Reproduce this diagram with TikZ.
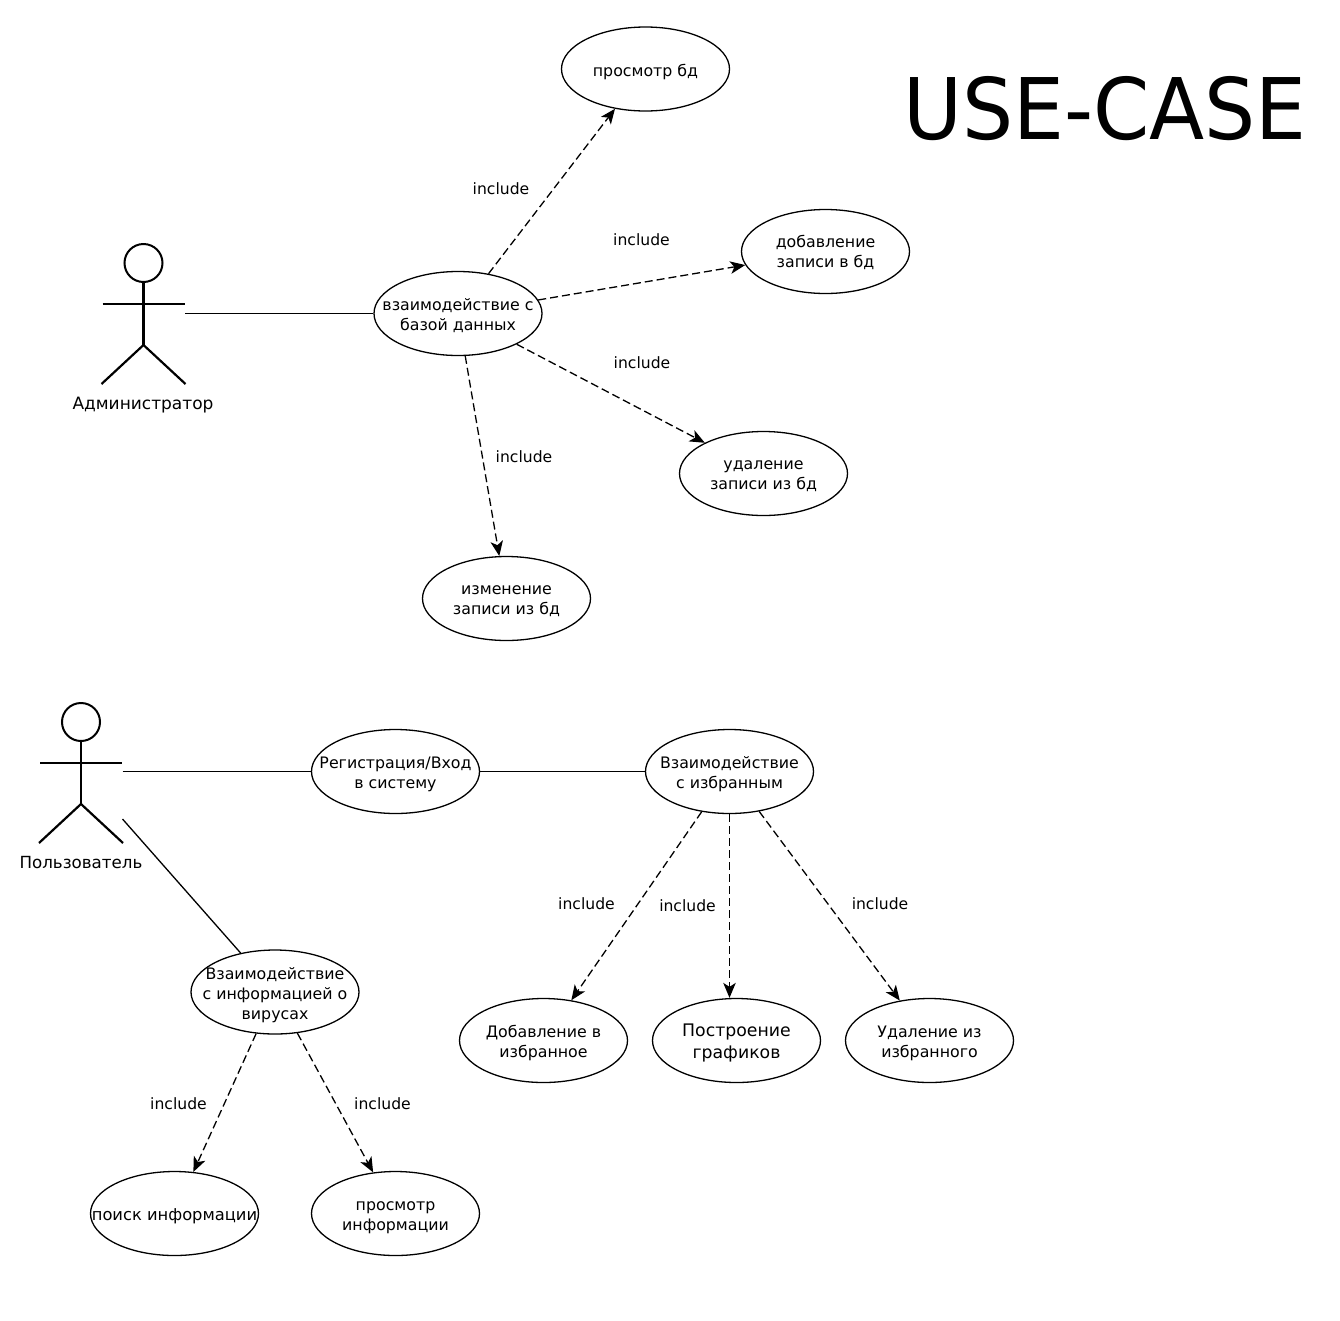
\documentclass[tikz,border=0pt]{standalone}
\usepackage{fontspec}
\setmainfont{DejaVu Sans}
\usetikzlibrary{shapes.geometric,arrows.meta}
\newcommand{\lnA}{\rule{0pt}{18pt}}
\newcommand{\lnC}{\rule{0pt}{14pt}}
\newcommand{\lnB}{\rule[-3pt]{0pt}{3pt}}
\tikzset{
  x=1pt,y=-1pt,
  uc/.style={ellipse,draw=black,line width=1.3pt,minimum width=168pt,minimum height=84pt,inner sep=-27pt,align=center,font=\fontsize{15.8}{20}\selectfont},
  lbl/.style={inner sep=0pt,font=\fontsize{15.6}{20}\selectfont},
  actorlbl/.style={inner sep=0pt,font=\fontsize{17}{20}\selectfont},
  actorbox/.style={inner sep=0pt,minimum width=83pt,minimum height=140pt},
  assoc/.style={line width=1.3pt},
  incl/.style={line width=1.3pt,dash pattern=on 8pt off 4pt,-{Stealth[length=15pt,width=12.5pt,inset=4pt]},shorten >=0pt},
  pics/stickman/.style={code={
    \draw[line width=2pt] (0,-51) circle[radius=19];
    \draw[line width=2.2pt] (0,-32) -- (0,31);
    \draw[line width=2.2pt] (-41,-10) -- (41,-10);
    \draw[line width=2.2pt] (-42,70) -- (0,31) -- (42,70);
  }}
}
\begin{document}
\begin{tikzpicture}
\useasboundingbox (0,0) rectangle (1340,1320);
\node[inner sep=0pt,font=\fontsize{85}{90}\selectfont] (title) at (1105,109) {\scalebox{.948}[1]{USE-CASE}};

\node[actorbox] (admin) at (143.5,314) {};
\pic at (admin) {stickman};
\node[actorlbl] (adminlbl) at (143,405) {Администратор};
\node[actorbox] (user) at (81,773) {};
\pic at (user) {stickman};
\node[actorlbl,font=\fontsize{16.7}{20}\selectfont] (userlbl) at (81,863) {Пользователь};
\coordinate (userfree) at (122.5,819);

\node[uc] (db) at (458,313.5) {\rule{0pt}{16pt}взаимодействие с\\базой данных\lnB};
\node[uc] (view) at (645.5,69) {\rule{0pt}{19pt}просмотр бд\lnB};
\node[uc] (add) at (825.5,251.5) {\lnC добавление\\записи в бд\lnB};
\node[uc] (del) at (763.5,473.5) {\lnC удаление\\записи из бд\lnB};
\node[uc] (edit) at (506.5,598.5) {\lnC изменение\\записи из бд\lnB};

\node[uc] (reg) at (395.5,771.5) {\lnA Регистрация/Вход\\в систему\lnB};
\node[uc] (fav) at (729.5,771.5) {\lnA Взаимодействие\\с избранным\lnB};
\node[uc] (info) at (275,992) {\lnA Взаимодействие\\с информацией о\\вирусах\lnB};
\node[uc] (favadd) at (543.5,1040.5) {\lnA Добавление в\\избранное\lnB};
\node[uc,font=\fontsize{17.3}{22}\selectfont] (favplot) at (736.5,1040.5) {\lnA Построение\\графиков\lnB};
\node[uc] (favdel) at (929.5,1040.5) {\lnA Удаление из\\избранного\lnB};
\node[uc,font=\fontsize{16.3}{20}\selectfont] (search) at (174.5,1213.5) {\rule{0pt}{17pt}поиск информации\lnB};
\node[uc] (infoview) at (395.5,1213.5) {\lnA просмотр\\информации\lnB};

\draw[assoc] (db.west -| admin.east) -- (db.west);
\draw[assoc] (reg.west -| user.east) -- (reg.west);
\draw[assoc] (reg) -- (fav);
\draw[assoc] (userfree) -- (info);

\draw[incl] (db) -- (view);
\draw[incl] (db) -- (add);
\draw[incl] (db) -- (del);
\draw[incl] (db) -- (edit);
\draw[incl] (fav) -- (favadd);
\draw[incl] (fav.south) -- (fav.south |- favplot.north);
\draw[incl] (fav) -- (favdel);
\draw[incl] (info) -- (search);
\draw[incl] (info) -- (infoview);

\node[lbl] (i1) at (501,189) {include};
\node[lbl] (i2) at (641.5,240) {include};
\node[lbl] (i3) at (642,363) {include};
\node[lbl] (i4) at (524,457) {include};
\node[lbl] (i5) at (586.5,904) {include};
\node[lbl] (i6) at (687.5,906) {include};
\node[lbl] (i7) at (880,904) {include};
\node[lbl] (i8) at (178.5,1104) {include};
\node[lbl] (i9) at (382.5,1104) {include};
\end{tikzpicture}
\end{document}
